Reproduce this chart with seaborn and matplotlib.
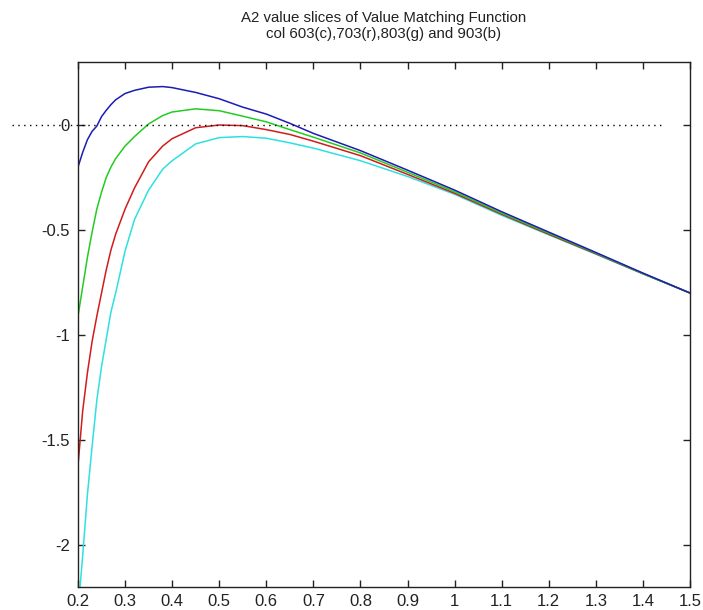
import numpy as np
import pandas as pd
import matplotlib
matplotlib.use("Agg")
import matplotlib.pyplot as plt
import seaborn as sns

# ---- data ----
x_vals = [0.20, 0.21, 0.22, 0.23, 0.24, 0.25, 0.26, 0.27, 0.28, 0.30, 0.32, 0.35,
          0.38, 0.40, 0.45, 0.50, 0.55, 0.60, 0.65, 0.70, 0.80, 0.90, 1.00, 1.10,
          1.20, 1.30, 1.40, 1.50]
col_903_b = [-0.20, -0.13, -0.07, -0.03, -0.005, 0.04, 0.07, 0.097, 0.12, 0.15, 0.165, 0.18,
             0.183, 0.178, 0.155, 0.125, 0.085, 0.052, 0.008, -0.04, -0.122, -0.215, -0.31, -0.413,
             -0.51, -0.607, -0.705, -0.80]
col_803_g = [-0.91, -0.77, -0.63, -0.51, -0.40, -0.32, -0.25, -0.20, -0.16, -0.10, -0.055, 0.005,
             0.045, 0.062, 0.077, 0.068, 0.042, 0.015, -0.022, -0.058, -0.133, -0.225, -0.318, -0.42,
             -0.515, -0.61, -0.707, -0.80]
col_703_r = [-1.62, -1.36, -1.18, -1.03, -0.91, -0.80, -0.69, -0.595, -0.52, -0.40, -0.30, -0.175,
             -0.10, -0.065, -0.013, 0.0, -0.003, -0.022, -0.045, -0.077, -0.146, -0.235, -0.325, -0.425,
             -0.52, -0.613, -0.708, -0.80]
col_603_c = [-2.32, -2.05, -1.76, -1.53, -1.31, -1.15, -1.02, -0.89, -0.80, -0.60, -0.45, -0.31,
             -0.21, -0.17, -0.09, -0.06, -0.055, -0.063, -0.085, -0.11, -0.17, -0.245, -0.33, -0.43,
             -0.523, -0.615, -0.709, -0.80]
series_names = ["603(c)", "703(r)", "803(g)", "903(b)"]
series_vals = [col_603_c, col_703_r, col_803_g, col_903_b]
x_ticks = [0.2, 0.3, 0.4, 0.5, 0.6, 0.7, 0.8, 0.9, 1.0, 1.1, 1.2, 1.3, 1.4, 1.5]
x_ticklabels = ["0.2", "0.3", "0.4", "0.5", "0.6", "0.7", "0.8", "0.9", "1", "1.1", "1.2", "1.3", "1.4", "1.5"]
y_ticks = [-2, -1.5, -1, -0.5, 0]
y_ticklabels = ["-2", "-1.5", "-1", "-0.5", "0"]
ref_x = [0.06, 1.44]
ref_y = [0.0, 0.0]
title_text = "A2 value slices of Value Matching Function\ncol 603(c),703(r),803(g) and 903(b)"

# ---- build long table ----
rows = []
for name, vals in zip(series_names, series_vals):
    for xv, yv in zip(x_vals, vals):
        rows.append({"x": xv, "y": yv, "series": name})
df = pd.DataFrame(rows)

sns.set_style("ticks", {"xtick.direction": "in", "ytick.direction": "in"})
plt.rcParams["font.family"] = ["Liberation Sans", "DejaVu Sans"]
plt.rcParams["axes.unicode_minus"] = False

palette = {"603(c)": "#2fe0e0", "703(r)": "#d01c1c", "803(g)": "#22cc22", "903(b)": "#1c1cb4"}

fig = plt.figure(figsize=(7.03, 6.10), dpi=100)
ax = fig.add_axes([78 / 703, 1 - 587 / 610, (690 - 78) / 703, (587 - 62) / 610])

sns.lineplot(data=df, x="x", y="y", hue="series", palette=palette, sort=False,
             estimator=None, linewidth=1.1, legend=False, ax=ax,
             hue_order=series_names)

ax.plot(ref_x, ref_y, color="black", linestyle=(0, (1, 3.2)), linewidth=1.0, clip_on=False)

ax.set_xlim(0.2, 1.5)
ax.set_ylim(-2.2, 0.3)
ax.set_xticks(x_ticks)
ax.set_xticklabels(x_ticklabels)
ax.set_yticks(y_ticks)
ax.set_yticklabels(y_ticklabels)
ax.set_xlabel("")
ax.set_ylabel("")
ax.tick_params(axis="both", which="both", direction="in", length=5, width=1,
               top=True, right=True, labelsize=12, colors="#222222", pad=6)
ax.tick_params(axis="x", pad=5)
for s in ax.spines.values():
    s.set_visible(True)
    s.set_color("#222222")
    s.set_linewidth(1.0)

ax.set_title(title_text, fontsize=10.8, color="#222222", pad=17, linespacing=1.25)

fig.savefig("out.png", dpi=100, facecolor="white")
